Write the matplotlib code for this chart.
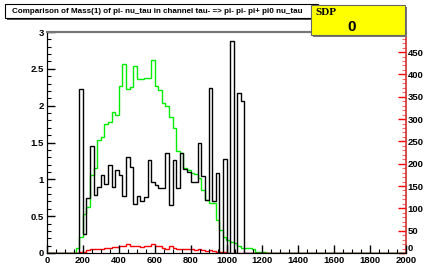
import numpy as np
import matplotlib
matplotlib.use("Agg")
import matplotlib.pyplot as plt
from matplotlib.patches import Rectangle
from matplotlib.ticker import MultipleLocator

plt.rcParams['font.family'] = ['Liberation Sans', 'DejaVu Sans']

# 20 MeV bins from 0 to 2000, values for bins starting at 0, 20, 40, ...
bin_width = 20
x_min, x_max = 0, 2000

# black histogram (left axis), bins 0..99
black = [0] * 9 + [
    2.22, 0.26, 0.74, 1.45, 0.79, 0.89, 1.06, 0.94, 1.19, 0.89,   # 180-360
    1.13, 1.06, 0.77, 1.30, 1.17, 0.66, 0.77, 0.70, 0.76, 1.26,   # 380-560
    0.97, 0.92, 0.88, 0.88, 1.36, 0.65, 1.26, 0.88, 1.36, 1.14,   # 580-760
    1.10, 0.97, 0.97, 1.49, 1.04, 0.72, 2.24, 0.70, 1.08, 0.0,    # 780-960
    1.28, 0.0, 2.88, 0.0, 2.17, 2.07,                             # 980-1080
] + [0] * 45

# green histogram (right axis)
green = [0] * 8 + [
    12, 35, 87, 102, 175, 190, 252, 259, 290, 294,     # 160-340
    315, 309, 375, 424, 368, 371, 419, 389, 389, 391,  # 360-540
    393, 432, 375, 366, 337, 330, 304, 279, 228, 223,  # 560-740
    190, 185, 180, 178, 168, 142, 119, 112, 112, 74,   # 760-940
    51, 36, 30, 25, 23, 15, 12, 12, 12, 8,             # 960-1140
    3, 3, 2,                                           # 1160-1200
] + [0] * 39

# red histogram (right axis)
red = [0] * 9 + [
    2, 3, 6, 8, 8, 10, 10, 12, 12, 13,     # 180-360
    13, 15, 16, 20, 15, 16, 16, 13, 15, 16,  # 380-560
    20, 16, 15, 12, 10, 15, 12, 10, 8, 10,   # 580-760
    8, 8, 7, 8, 7, 5, 7, 5, 2, 2,            # 780-960
    2,
] + [0] * 50

left_ticks = [0, 0.5, 1, 1.5, 2, 2.5, 3]
left_labels = ['0', '0.5', '1', '1.5', '2', '2.5', '3']
right_ticks = [0, 50, 100, 150, 200, 250, 300, 350, 400, 450]
x_ticks = [0, 200, 400, 600, 800, 1000, 1200, 1400, 1600, 1800, 2000]

title = "Comparison of Mass(1) of pi- nu_tau in channel tau- => pi- pi- pi+ pi0 nu_tau"

W, H = 425, 274
fig = plt.figure(figsize=(W / 100, H / 100), dpi=100)


def fx(x):
    return x / W


def fy(y):
    return 1 - y / H


ax = fig.add_axes([fx(47), fy(253), (406 - 47) / W, (253 - 32) / H])
ax2 = ax.twinx()

edges = np.arange(x_min, x_max + bin_width, bin_width)
ax2.stairs(green, edges, color='#00ee00', lw=1.0, baseline=0, zorder=2)
ax2.stairs(red, edges, color='#ff0000', lw=1.0, baseline=0, zorder=3)
ax.stairs(black, edges, color='black', lw=1.0, baseline=0, zorder=4)

ax.set_zorder(ax2.get_zorder() + 1)
ax.patch.set_visible(False)

ax.set_xlim(x_min, x_max)
ax.set_ylim(0, 3)
ax2.set_ylim(0, 495)

tfont = dict(fontsize=6.8, fontweight='bold')
ax.set_xticks(x_ticks)
ax.set_xticklabels([str(t) for t in x_ticks], **tfont)
ax.set_yticks(left_ticks)
ax.set_yticklabels(left_labels, **tfont)
ax.xaxis.set_minor_locator(MultipleLocator(50))
ax.yaxis.set_minor_locator(MultipleLocator(0.1))
ax.tick_params(which='major', direction='in', length=6, width=1, pad=2,
               top=False, right=False)
ax.tick_params(which='minor', direction='in', length=3, width=0.8,
               top=False, right=False)

ax2.set_yticks(right_ticks)
ax2.set_yticklabels([str(t) for t in right_ticks], **tfont)
ax2.yaxis.set_minor_locator(MultipleLocator(10))
ax2.tick_params(which='major', direction='in', length=6, width=1,
                color='#ff0000', labelcolor='black', pad=1)
ax2.tick_params(which='minor', direction='in', length=3, width=0.8,
                color='#ff6666')
# lift the right "0" a touch so it does not sit on the "2000" label
ax2.get_yticklabels()[0].set_verticalalignment('bottom')

for a in (ax, ax2):
    a.spines['top'].set_color('#777777')
    a.spines['top'].set_linewidth(1.5)
    a.spines['left'].set_color('black')
    a.spines['bottom'].set_color('black')
    a.spines['right'].set_color('#cc3333')
    a.spines['right'].set_linewidth(1.2)
ax.spines['right'].set_visible(False)

# title box with shadow
fig.add_artist(Rectangle((fx(7), fy(20)), 313 / W, 14 / H, transform=fig.transFigure,
                         facecolor='#555555', edgecolor='none', zorder=9))
fig.add_artist(Rectangle((fx(5), fy(18)), 313 / W, 14 / H, transform=fig.transFigure,
                         facecolor='white', edgecolor='black', lw=0.8, zorder=10))
fig.text(fx(12), fy(11.3), title, fontsize=5.8, fontweight='bold',
         va='center', ha='left', zorder=11)

# yellow stat box
fig.add_artist(Rectangle((fx(313), fy(37)), 94 / W, 30 / H, transform=fig.transFigure,
                         facecolor='#777777', edgecolor='none', zorder=12))
fig.add_artist(Rectangle((fx(311), fy(35)), 94 / W, 30 / H, transform=fig.transFigure,
                         facecolor='#ffff00', edgecolor='#666666', lw=0.8, zorder=13))
fig.text(fx(315), fy(12.5), "SDP", fontsize=8, fontweight='bold',
         family=['Liberation Serif', 'DejaVu Serif'], va='center', ha='left', zorder=14)
fig.text(fx(352), fy(27), "0", fontsize=11, fontweight='bold',
         va='center', ha='center', zorder=14)

fig.savefig("out.png", dpi=100)
